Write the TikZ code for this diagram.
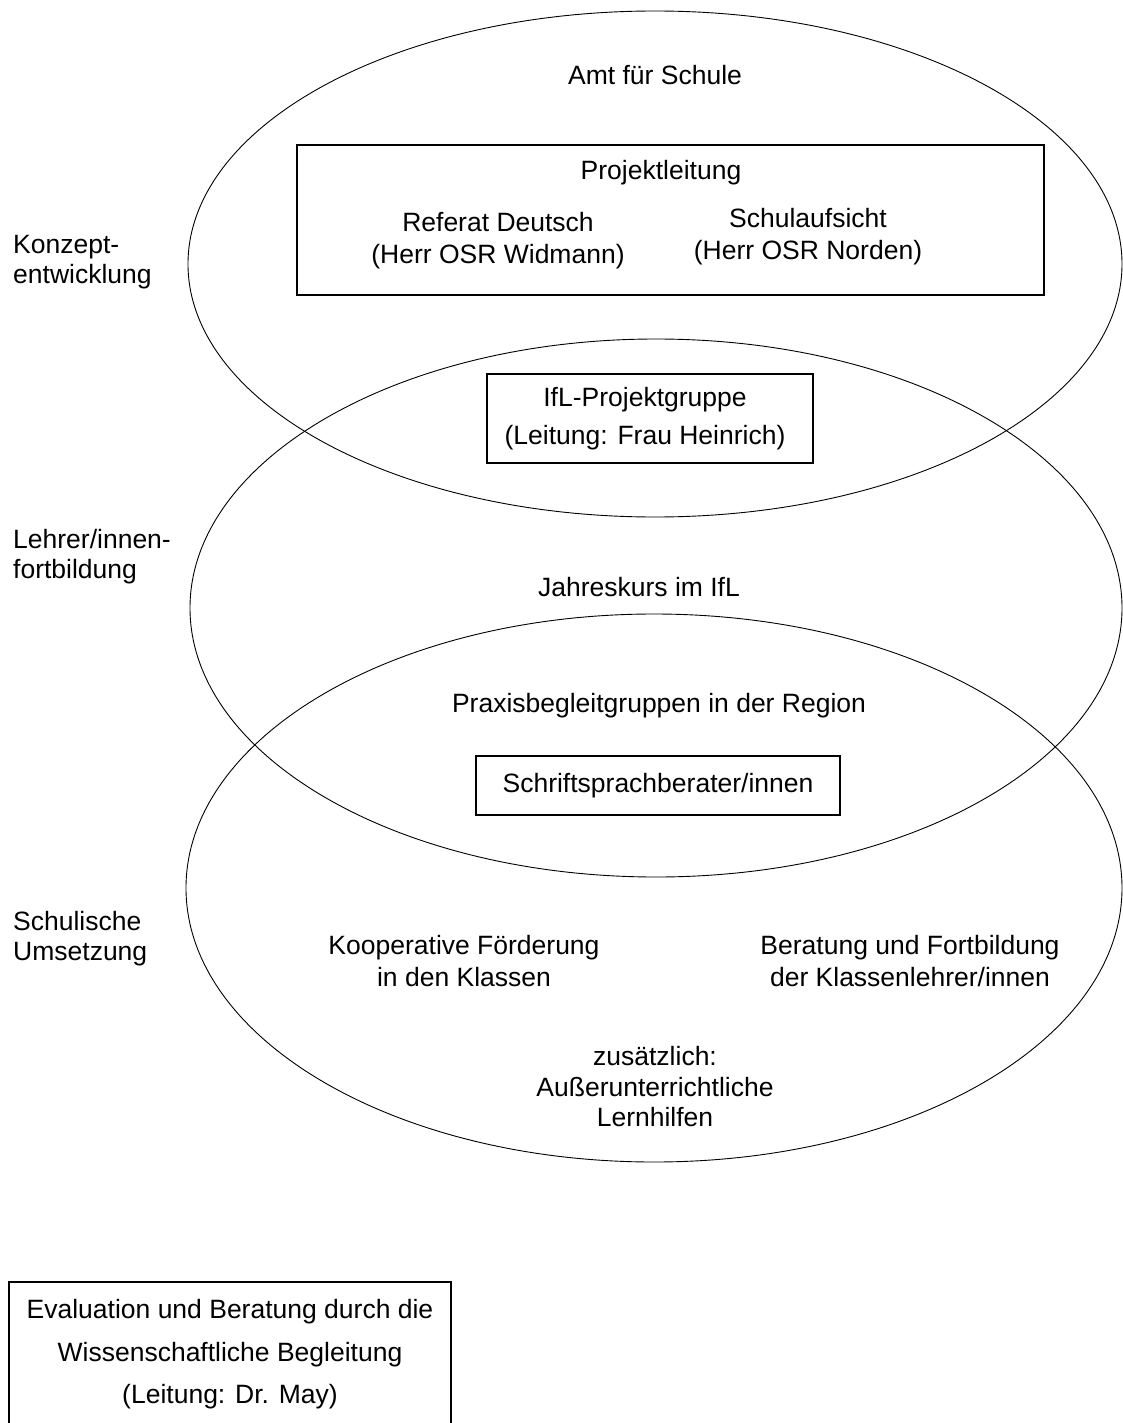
\documentclass[tikz,border=0pt]{standalone}
\usepackage{fontspec}
\setmainfont{Liberation Sans}
\usetikzlibrary{shapes.geometric}
\begin{document}
\begin{tikzpicture}[x=1pt,y=-1pt,
  every node/.style={font=\fontsize{26.5}{32}\selectfont, inner sep=0pt},
  ring/.style={ellipse, draw, line width=0.9pt, inner sep=0pt},
  framebox/.style={rectangle, draw, line width=2.2pt, inner sep=0pt},
  lbl/.style={align=center},
  side/.style={align=left, anchor=west, font=\fontsize{26.5}{30}\selectfont}]
\useasboundingbox (0,0) rectangle (1123,1423);
\clip (0,0) rectangle (1123,1423);
% ellipses
\node[ring, minimum width=934pt, minimum height=506pt] (e1) at (655,264) {};
\node[ring, minimum width=932pt, minimum height=538pt] (e2) at (656,608) {};
\node[ring, minimum width=936pt, minimum height=548pt] (e3) at (654,888) {};
% top ellipse content
\node (amt) at (655,75) {Amt für Schule};
\node[framebox, minimum width=747pt, minimum height=150pt] (pl) at (670.5,220) {};
\node (plt) at (661,173) {Projektleitung};
\node[lbl] (ref) at (498,241) {Referat Deutsch\\(Herr OSR Widmann)};
\node[lbl] (sa) at (808,237) {Schulaufsicht\\(Herr OSR Norden)};
\node[framebox, minimum width=326pt, minimum height=89pt] (ifl) at (650,418.5) {};
\node[lbl, font=\fontsize{26.5}{38}\selectfont] (iflt) at (645,419) {IfL-Projektgruppe\\(Leitung: Frau Heinrich)};
% middle
\node (jk) at (639,587) {Jahreskurs im IfL};
\node (pbg) at (659,706) {Praxisbegleitgruppen in der Region};
\node[framebox, minimum width=364pt, minimum height=59pt] (ssb) at (658,785.5) {};
\node (ssbt) at (658,786) {Schriftsprachberater/innen};
% bottom
\node[lbl] (koop) at (464,961) {Kooperative Förderung\\in den Klassen};
\node[lbl] (ber) at (910,961) {Beratung und Fortbildung\\der Klassenlehrer/innen};
\node[lbl, font=\fontsize{26.5}{30.5}\selectfont] (zus) at (655,1087) {zusätzlich:\\Außerunterrichtliche\\Lernhilfen};
% side labels
\node[side] (konz) at (13,262) {Konzept-\\entwicklung};
\node[side] (lehr) at (13,557) {Lehrer/innen-\\fortbildung};
\node[side] (schul) at (13,939) {Schulische\\Umsetzung};
% evaluation box
\node[framebox, minimum width=442pt, minimum height=150pt] (eval) at (230,1357) {};
\node[lbl, font=\fontsize{26.5}{42.5}\selectfont] (evalt) at (230,1354.5) {Evaluation und Beratung durch die\\Wissenschaftliche Begleitung\\(Leitung: Dr. May)};
\end{tikzpicture}
\end{document}
